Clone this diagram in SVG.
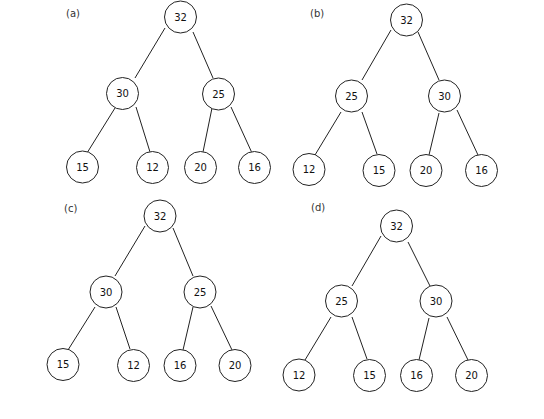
<svg xmlns="http://www.w3.org/2000/svg" width="544" height="419" viewBox="0 0 544 419">
<style>
.n circle{fill:#fff;stroke:#222;stroke-width:1}
.n text,.lbl{font-family:"DejaVu Sans",Verdana,sans-serif;font-size:10px;fill:#111;text-anchor:middle;dominant-baseline:central}
.lbl{text-anchor:start;fill:#333}
.e line{stroke:#222;stroke-width:1}
</style>
<rect width="544" height="419" fill="#fff"/>
<g id="edges" class="e">
<line x1="165" y1="28" x2="135" y2="78"/>
<line x1="193" y1="32" x2="213" y2="78"/>
<line x1="115" y1="108" x2="87" y2="153"/>
<line x1="136" y1="107" x2="150" y2="152"/>
<line x1="212" y1="108" x2="203" y2="152"/>
<line x1="231" y1="107" x2="252" y2="153"/>
<line x1="391" y1="30" x2="362" y2="80"/>
<line x1="418" y1="32" x2="439" y2="80"/>
<line x1="341" y1="112" x2="315" y2="155"/>
<line x1="362" y1="112" x2="377" y2="154"/>
<line x1="439" y1="113" x2="429" y2="155"/>
<line x1="457" y1="110" x2="478" y2="155"/>
<line x1="145" y1="226" x2="115" y2="276"/>
<line x1="173" y1="228" x2="193" y2="276"/>
<line x1="95" y1="307" x2="68" y2="350"/>
<line x1="116" y1="307" x2="130" y2="349"/>
<line x1="193" y1="307" x2="183" y2="350"/>
<line x1="211" y1="306" x2="232" y2="350"/>
<line x1="381" y1="236" x2="352" y2="286"/>
<line x1="408" y1="242" x2="430" y2="286"/>
<line x1="331" y1="317" x2="305" y2="360"/>
<line x1="352" y1="317" x2="367" y2="359"/>
<line x1="429" y1="318" x2="419" y2="360"/>
<line x1="447" y1="317" x2="468" y2="360"/>
</g>
<text class="lbl" x="66" y="13">(a)</text>
<text class="lbl" x="310" y="13">(b)</text>
<text class="lbl" x="64" y="208">(c)</text>
<text class="lbl" x="311" y="207">(d)</text>
<g id="a32" class="n"><circle cx="180.5" cy="17" r="16"/><text x="180.5" y="17">32</text></g>
<g id="a30" class="n"><circle cx="122.5" cy="93.5" r="16"/><text x="122.5" y="93.5">30</text></g>
<g id="a25" class="n"><circle cx="218.5" cy="94" r="16"/><text x="218.5" y="94">25</text></g>
<g id="a15" class="n"><circle cx="82.5" cy="167" r="16"/><text x="82.5" y="167">15</text></g>
<g id="a12" class="n"><circle cx="152.5" cy="167.5" r="16"/><text x="152.5" y="167.5">12</text></g>
<g id="a20" class="n"><circle cx="200.5" cy="167.5" r="16"/><text x="200.5" y="167.5">20</text></g>
<g id="a16" class="n"><circle cx="254.5" cy="167.5" r="16"/><text x="254.5" y="167.5">16</text></g>
<g id="b32" class="n"><circle cx="406.5" cy="20" r="16"/><text x="406.5" y="20">32</text></g>
<g id="b25" class="n"><circle cx="351.5" cy="96" r="16"/><text x="351.5" y="96">25</text></g>
<g id="b30" class="n"><circle cx="444.5" cy="96" r="16"/><text x="444.5" y="96">30</text></g>
<g id="b12" class="n"><circle cx="309" cy="169.5" r="16"/><text x="309" y="169.5">12</text></g>
<g id="b15" class="n"><circle cx="379" cy="170.5" r="16"/><text x="379" y="170.5">15</text></g>
<g id="b20" class="n"><circle cx="426" cy="170.5" r="16"/><text x="426" y="170.5">20</text></g>
<g id="b16" class="n"><circle cx="481.5" cy="170.5" r="16"/><text x="481.5" y="170.5">16</text></g>
<g id="c32" class="n"><circle cx="160" cy="216" r="16"/><text x="160" y="216">32</text></g>
<g id="c30" class="n"><circle cx="106" cy="292" r="16"/><text x="106" y="292">30</text></g>
<g id="c25" class="n"><circle cx="200" cy="292" r="16"/><text x="200" y="292">25</text></g>
<g id="c15" class="n"><circle cx="63" cy="364.5" r="16"/><text x="63" y="364.5">15</text></g>
<g id="c12" class="n"><circle cx="133.5" cy="365.5" r="16"/><text x="133.5" y="365.5">12</text></g>
<g id="c16" class="n"><circle cx="180" cy="365.5" r="16"/><text x="180" y="365.5">16</text></g>
<g id="c20" class="n"><circle cx="235" cy="365.5" r="16"/><text x="235" y="365.5">20</text></g>
<g id="d32" class="n"><circle cx="396.5" cy="226" r="16"/><text x="396.5" y="226">32</text></g>
<g id="d25" class="n"><circle cx="341.5" cy="301" r="16"/><text x="341.5" y="301">25</text></g>
<g id="d30" class="n"><circle cx="436" cy="301" r="16"/><text x="436" y="301">30</text></g>
<g id="d12" class="n"><circle cx="299" cy="375" r="16"/><text x="299" y="375">12</text></g>
<g id="d15" class="n"><circle cx="369.5" cy="375.5" r="16"/><text x="369.5" y="375.5">15</text></g>
<g id="d16" class="n"><circle cx="416.5" cy="375.5" r="16"/><text x="416.5" y="375.5">16</text></g>
<g id="d20" class="n"><circle cx="471.5" cy="375.5" r="16"/><text x="471.5" y="375.5">20</text></g>
</svg>
